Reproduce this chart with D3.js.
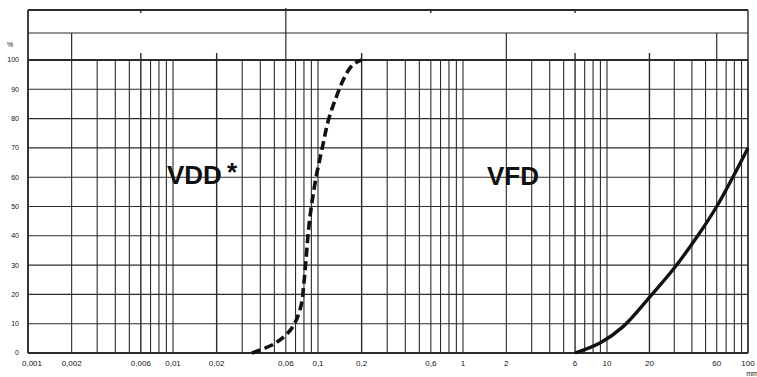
<!DOCTYPE html>
<html>
<head>
<meta charset="utf-8">
<script src="https://cdn.jsdelivr.net/npm/d3@7"></script>
<style>
    body { margin: 0; background: #fff; }
    svg { display: block; }
</style>
</head>
<body>
<script>
"use strict";
(function () {

    // Data: grain size (mm) against percent passing
    const vddSize = [0.035, 0.051, 0.066, 0.076, 0.080, 0.083, 0.086, 0.090, 0.097, 0.107, 0.118, 0.134, 0.152, 0.173, 0.2]
    const vddPct = [0, 3.4, 8.5, 15.7, 24, 33, 42, 50, 60, 70, 79.5, 87.5, 94, 98.3, 100]

    const vfdSize = [6, 9, 13, 20, 30, 44, 60, 78, 100]
    const vfdPct = [0, 3.5, 9, 19, 29, 40, 50, 60, 70]

    const yTicks = [0, 10, 20, 30, 40, 50, 60, 70, 80, 90, 100]
    const xTickLabels = [0.001, 0.002, 0.006, 0.01, 0.02, 0.06, 0.1, 0.2, 0.6, 1, 2, 6, 10, 20, 60, 100]
    // fraction boundaries drawn through the header rows
    const headerSplits = [0.002, 0.06, 2, 60]
    // sub-fraction marks poking above the grid
    const subSplits = [0.006, 0.02, 0.2, 0.6, 6, 20]
    const topMarks = [0.006, 0.6, 6]

    // Dimensions for svg
    const measurements = {
        width: 757,
        height: 377,
        left: 28,
        right: 748,
        frameTop: 10,
        rowLine: 33,
        plotTop: 60,
        plotBottom: 353
    }

    const ink = "#2b2b2b"

    const svg = d3.select("body").append("svg")
        .attr("width", measurements.width)
        .attr("height", measurements.height)

    // the scanned paper is slightly uneven, so the log axis is polylinear
    const scaleX = d3.scaleLog()
        .domain([0.001, 1, 10, 100])
        .range([measurements.left, 463, 607, measurements.right])

    const scaleY = d3.scaleLinear()
        .domain([0, 100])
        .range([measurements.plotBottom, measurements.plotTop])

    // every 1..9 multiple in each decade
    let gridX = []
    for (let e = -3; e < 2; e++) {
        for (let m = 1; m < 10; m++) {
            gridX.push(m * Math.pow(10, e))
        }
    }
    gridX.push(100)

    // Vertical grid
    svg.append("g").selectAll("line")
        .data(gridX)
        .enter()
        .append("line")
        .attr("x1", d => scaleX(d))
        .attr("x2", d => scaleX(d))
        .attr("y1", d => subSplits.includes(d) ? measurements.plotTop - 7 : measurements.plotTop)
        .attr("y2", measurements.plotBottom)
        .attr("stroke", ink)
        .attr("stroke-width", d => subSplits.includes(d) ? 1.4 : 1.1)

    // Horizontal grid
    svg.append("g").selectAll("line")
        .data(yTicks)
        .enter()
        .append("line")
        .attr("x1", measurements.left)
        .attr("x2", measurements.right)
        .attr("y1", d => scaleY(d))
        .attr("y2", d => scaleY(d))
        .attr("stroke", ink)
        .attr("stroke-width", d => (d === 0 || d === 100) ? 1.8 : 1.1)

    // Header rows
    const frame = svg.append("g").attr("stroke", ink).attr("fill", "none")
    frame.append("line")
        .attr("x1", measurements.left).attr("x2", measurements.right)
        .attr("y1", measurements.frameTop).attr("y2", measurements.frameTop)
        .attr("stroke-width", 1.8)
    frame.append("line")
        .attr("x1", measurements.left).attr("x2", measurements.right)
        .attr("y1", measurements.rowLine).attr("y2", measurements.rowLine)
        .attr("stroke-width", 1.2)
    frame.append("line")
        .attr("x1", measurements.left).attr("x2", measurements.left)
        .attr("y1", measurements.frameTop).attr("y2", measurements.plotBottom)
        .attr("stroke-width", 1.8)
    frame.append("line")
        .attr("x1", measurements.right).attr("x2", measurements.right)
        .attr("y1", measurements.frameTop).attr("y2", measurements.plotBottom)
        .attr("stroke-width", 1.4)

    frame.selectAll(".split")
        .data(headerSplits)
        .enter()
        .append("line")
        .attr("x1", d => scaleX(d))
        .attr("x2", d => scaleX(d))
        .attr("y1", d => d === 0.06 ? measurements.frameTop - 2 : measurements.rowLine)
        .attr("y2", measurements.plotTop)
        .attr("stroke-width", 1.2)

    frame.selectAll(".mark")
        .data(topMarks)
        .enter()
        .append("line")
        .attr("x1", d => scaleX(d))
        .attr("x2", d => scaleX(d))
        .attr("y1", measurements.frameTop)
        .attr("y2", measurements.frameTop + 3)
        .attr("stroke-width", 1.4)

    // Axis labels
    const fmt = d => String(d).replace(".", ",")

    svg.append("g").selectAll("text")
        .data(xTickLabels)
        .enter()
        .append("text")
        .attr("x", d => scaleX(d) + (d === 0.001 ? 4 : 0))
        .attr("y", 366)
        .attr("text-anchor", "middle")
        .style("font-family", "Liberation Sans, Arial, sans-serif")
        .style("font-size", "8px")
        .style("fill", "#111")
        .text(fmt)

    svg.append("g").selectAll("text")
        .data(yTicks)
        .enter()
        .append("text")
        .attr("x", 19)
        .attr("y", d => scaleY(d))
        .attr("dy", "0.35em")
        .attr("text-anchor", "end")
        .style("font-family", "Liberation Sans, Arial, sans-serif")
        .style("font-size", "7px")
        .style("fill", "#111")
        .text(d => d)

    svg.append("text")
        .attr("x", 7)
        .attr("y", 47)
        .style("font-family", "Liberation Sans, Arial, sans-serif")
        .style("font-size", "7px")
        .style("fill", "#111")
        .text("%")

    svg.append("text")
        .attr("x", 752)
        .attr("y", 376)
        .attr("text-anchor", "middle")
        .style("font-family", "Liberation Sans, Arial, sans-serif")
        .style("font-size", "7px")
        .style("fill", "#111")
        .text("mm")

    // Curves
    const line = d3.line()
        .x(d => scaleX(d[0]))
        .y(d => scaleY(d[1]))
        .curve(d3.curveCatmullRom.alpha(0.5))

    const vdd = d3.zip(vddSize, vddPct)
    const vfd = d3.zip(vfdSize, vfdPct)

    svg.append("path")
        .datum(vdd)
        .attr("d", line)
        .attr("fill", "none")
        .attr("stroke", "#111")
        .attr("stroke-width", 3.6)
        .attr("stroke-dasharray", "9,4.5")

    svg.append("path")
        .datum(vfd)
        .attr("d", line)
        .attr("fill", "none")
        .attr("stroke", "#111")
        .attr("stroke-width", 3.4)

    // Curve names
    const names = [
        { label: "VDD", star: true, x: 167, y: 184 },
        { label: "VFD", star: false, x: 487, y: 185 }
    ]
    names.forEach(n => {
        const t = svg.append("text")
            .attr("x", n.x)
            .attr("y", n.y)
            .style("font-family", "Liberation Sans, Arial, sans-serif")
            .style("font-weight", "bold")
            .style("font-size", "26px")
            .style("fill", "#111")
            .text(n.label)
        if (n.star) {
            t.append("tspan").attr("dx", 5).attr("dy", -3).text("*")
        }
    })

})()
</script>
</body>
</html>
